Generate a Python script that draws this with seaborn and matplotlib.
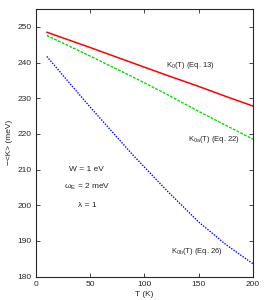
import numpy as np
import pandas as pd
import matplotlib
matplotlib.use('Agg')
from matplotlib import pyplot as plt
import seaborn as sns

# values
T = [10, 50, 89, 120, 150, 175, 200]
K0 = [248.5, 244.2, 239.9, 236.5, 233.3, 230.5, 227.8]
K0a = [247.6, 241.8, 236.0, 231.2, 226.3, 222.4, 218.5]
K0b = [241.7, 227.5, 214.2, 204.3, 195.3, 189.0, 183.6]

sns.set_style('ticks')
plt.rcParams['font.family'] = ['Liberation Sans', 'DejaVu Sans']
plt.rcParams['mathtext.fontset'] = 'custom'
plt.rcParams['mathtext.rm'] = 'Liberation Sans'
plt.rcParams['mathtext.it'] = 'Liberation Sans'

df = pd.DataFrame({'T': T, 'K0': K0, 'K0a': K0a, 'K0b': K0b})

fig = plt.figure(figsize=(2.66, 3.0), dpi=100)
ax = fig.add_axes([0.135, 0.078, 0.816, 0.892])

sns.lineplot(data=df, x='T', y='K0', ax=ax, color='red', lw=1.1)
sns.lineplot(data=df, x='T', y='K0a', ax=ax, color='#00dd00', lw=1.0, linestyle=(0, (2, 1)))
sns.lineplot(data=df, x='T', y='K0b', ax=ax, color='blue', lw=1.0, linestyle=(0, (1, 1)))

ax.set_xlim(0, 200)
ax.set_ylim(180, 255)
ax.set_xticks([0, 50, 100, 150, 200])
ax.set_yticks([180, 190, 200, 210, 220, 230, 240, 250])
ax.tick_params(direction='in', length=3, width=0.6, labelsize=6, top=True, right=True, pad=3)
for s in ax.spines.values():
    s.set_linewidth(0.8)
ax.set_xlabel('T (K)', fontsize=6, labelpad=2)
ax.set_ylabel('−<K> (meV)', fontsize=6, labelpad=3)

ax.text(120, 239.2, r'K$_0$(T) (Eq. 13)', fontsize=5.5, va='center', ha='left')
ax.text(140, 218.3, r'K$_{0a}$(T) (Eq. 22)', fontsize=5.5, va='center', ha='left')
ax.text(124.5, 187.0, r'K$_{0b}$(T) (Eq. 26)', fontsize=5.5, va='center', ha='left')

ax.text(47, 210, 'W = 1 eV', fontsize=6, ha='center', va='center')
ax.text(47, 205.2, r'ω$_E$ = 2 meV', fontsize=6, ha='center', va='center')
ax.text(47, 200, 'λ = 1', fontsize=6, ha='center', va='center')

fig.savefig('out.png', dpi=100)
